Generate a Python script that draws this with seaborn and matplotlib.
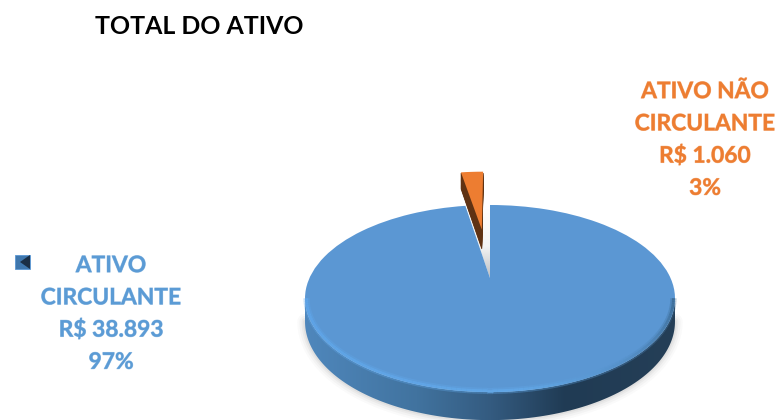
"""
TOTAL DO ATIVO - exploded pie with a perspective "3D" look
Run: python plot.py
"""

import numpy as np
import matplotlib
matplotlib.use("Agg")
import matplotlib.pyplot as plt
import matplotlib.patheffects as pe
import seaborn as sns
from matplotlib.collections import LineCollection
from matplotlib.colors import LinearSegmentedColormap
from matplotlib.patches import PathPatch, Polygon, Rectangle, Wedge
from matplotlib.transforms import Transform

sns.set_theme(style="white")
plt.rcParams["font.family"] = ["Lato", "DejaVu Sans"]

# ── Data ──────────────────────────────────────────────────────────────────────
TITLE = "TOTAL DO ATIVO"
labels = ["ATIVO NÃO\nCIRCULANTE", "ATIVO\nCIRCULANTE"]
values = [1060, 38893]
explode = [0.62, 0.0]

ORANGE, BLUE = sns.color_palette(["#ED7D31", "#5B97D3"])
BROWN = "#5F3213"
TEXT_BLUE = "#5B9BD5"
TEXT_ORANGE = "#ED7D31"


def data_label(name, value):
    money = f"{value:,}".replace(",", ".")
    pct = round(100 * value / sum(values))
    return f"{name}\nR$ {money}\n{pct}%"


# ── Pie plane -> picture pixels ───────────────────────────────────────────────
CX, CY = 490, 278       # where the slice tips meet
A, B, K = 180.5, 89, 0.219
DEPTH = 22


class Perspective(Transform):
    input_dims = output_dims = 2

    def __init__(self, z=0.0):
        super().__init__()
        self.z = z

    def transform_non_affine(self, values):
        x, y = values[:, 0], values[:, 1]
        w = 1 + K * y
        return np.column_stack([CX + A * x / w, CY - (B * y - DEPTH * self.z) / w])


fig = plt.figure(figsize=(7.76, 4.2), dpi=100)
ax = fig.add_axes([0, 0, 1, 1])

wedges, _ = ax.pie(values, explode=explode, startangle=90, radius=1,
                   colors=[ORANGE, BLUE], wedgeprops={"linewidth": 0})
orange, blue = wedges
ax.set_aspect("auto")

top_plane = Perspective(0)
low_plane = Perspective(1)
blue.set_transform(top_plane + ax.transData)
orange.set_transform(top_plane + ax.transData)
blue.set_zorder(5)
orange.set_zorder(3)

# orange slice runs off the top of the plot area
clip = Rectangle((0, 172.5), 776, 248, transform=ax.transData)
orange.set_clip_path(clip)
for z in np.linspace(1, 0.05, 14):
    wall = PathPatch(orange.get_path(), facecolor=BROWN, edgecolor=BROWN, lw=0.5,
                     transform=Perspective(z) + ax.transData, zorder=2)
    ax.add_patch(wall)
    wall.set_clip_path(clip)

# grey shading inside the gap the slice left behind
gap = Wedge((0, 0), 1, orange.theta1, orange.theta2,
            transform=top_plane + ax.transData, facecolor="none", edgecolor="none")
ax.add_patch(gap)
gap_cmap = LinearSegmentedColormap.from_list("gap", [(0, "#FFFFFF"), (0.55, "#F4F4F4"), (1, "#B8BCC0")])
gap_im = ax.imshow(np.linspace(0, 1, 64)[:, None], cmap=gap_cmap,
                   extent=(460, 495, 280, 205), aspect="auto", zorder=1.5)
gap_im.set_clip_path(gap)

# ── Side wall of the big slice ────────────────────────────────────────────────
t = np.radians(np.linspace(192.6, 347.4, 120))
rim = np.column_stack([np.cos(t), np.sin(t)])
outline = np.vstack([low_plane.transform(rim), top_plane.transform(rim)[::-1]])

for lw, alpha in [(11, 0.035), (8, 0.05), (5, 0.07), (2.5, 0.09)]:
    ax.plot(*low_plane.transform(rim).T, color="#777777", alpha=alpha, lw=lw,
            solid_capstyle="round", zorder=0.5)

wall_cmap = LinearSegmentedColormap.from_list(
    "wall", [(0, "#4F87BC"), (0.3, "#41739F"), (0.5, "#345B80"),
             (0.7, "#203B54"), (1, "#253F57")])
grad = np.linspace(0, 1, 256)[None, :]
im = ax.imshow(grad, cmap=wall_cmap, extent=(305, 677, 420, 200), aspect="auto", zorder=1)
im.set_clip_path(Polygon(outline, closed=True, transform=ax.transData))

# soft bevel on the front edge of the top face
rim_cmap = LinearSegmentedColormap.from_list(
    "rim", [(0, "#5FA6EA"), (0.55, "#62A8E8"), (0.75, "#5590C8"), (1, "#3A6890")])
inner = top_plane.transform(rim * 0.992)
segs = np.stack([inner[:-1], inner[1:]], axis=1)
for lw, alpha in [(4.5, 0.35), (2.0, 0.8)]:
    bevel = LineCollection(segs, cmap=rim_cmap, linewidths=lw, alpha=alpha,
                           capstyle="butt", zorder=6)
    bevel.set_array(np.linspace(0, 1, len(segs)))
    ax.add_collection(bevel)

# ── Legend key (left over from the original label) ────────────────────────────
ax.add_patch(Rectangle((15, 255), 15, 14, facecolor="#3F77AD", edgecolor="#5B97D3",
                       lw=0.6, zorder=3))
ax.add_patch(Polygon([(30, 255), (30, 269), (20, 262)], closed=True,
                     facecolor="#1B2F45", edgecolor="none", zorder=4))

# ── Text ──────────────────────────────────────────────────────────────────────
ax.text(95, 26, TITLE, ha="left", va="center", fontsize=17.9, fontweight="bold",
        color="black")
for label, xy, colour in [(data_label(labels[0], values[0]), (705, 140), TEXT_ORANGE),
                          (data_label(labels[1], values[1]), (111, 314), TEXT_BLUE)]:
    txt = ax.text(*xy, label, ha="center", va="center", fontsize=16.4, fontweight="bold",
                  color=colour, linespacing=1.66)
    txt.set_path_effects([pe.withStroke(linewidth=0.6, foreground=colour, alpha=0.5)])

ax.set_xlim(0, 776)
ax.set_ylim(420, 0)
ax.axis("off")

fig.savefig("out.png", dpi=100)
